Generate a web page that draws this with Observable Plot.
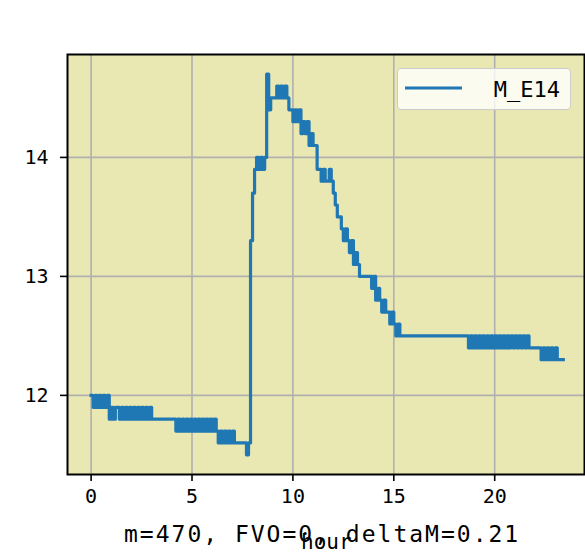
<!DOCTYPE html>
<html>
<head>
<meta charset="utf-8">
<script src="https://cdn.jsdelivr.net/npm/d3@7"></script>
<script src="https://cdn.jsdelivr.net/npm/@observablehq/plot@0.6"></script>
<style>
  html, body { margin: 0; padding: 0; background: #ffffff; }
  #wrap { position: relative; width: 585px; height: 554px; overflow: hidden; }
  .mono { font-family: "DejaVu Sans Mono", monospace; color: #000; white-space: pre; }
  #legend { position: absolute; left: 397px; top: 68px; width: 174px; height: 42px; box-sizing: border-box;
            background: rgba(255,255,255,0.8); border: 1.5px solid #cccccc; border-radius: 4px; }
  #legend svg { position: absolute; left: 0; top: 0; }
  #legendText { position: absolute; right: 10px; top: 8px; font-size: 22px; line-height: 26px; }
  #xlabel { position: absolute; left: 301px; top: 529px; font-size: 21px; line-height: 26px; }
  #caption { position: absolute; left: 124px; top: 521px; font-size: 23px; line-height: 26px; letter-spacing: 2px; }
</style>
</head>
<body>
<div id="wrap"></div>
<script>
const sampleStepHours = 0.1;
const seriesName = "M_E14";
const mE14 = [
  // hour 0
  12.0, 11.9, 12.0, 11.9, 12.0, 11.9, 12.0, 11.9, 12.0, 11.8,
  // hour 1
  11.9, 11.8, 11.9, 11.9, 11.8, 11.9, 11.8, 11.9, 11.8, 11.9,
  // hour 2
  11.8, 11.9, 11.8, 11.9, 11.8, 11.9, 11.8, 11.9, 11.8, 11.9,
  // hour 3
  11.8, 11.8, 11.8, 11.8, 11.8, 11.8, 11.8, 11.8, 11.8, 11.8,
  // hour 4
  11.8, 11.8, 11.7, 11.8, 11.7, 11.8, 11.7, 11.8, 11.7, 11.8,
  // hour 5
  11.7, 11.8, 11.7, 11.8, 11.7, 11.8, 11.7, 11.8, 11.7, 11.8,
  // hour 6
  11.7, 11.8, 11.7, 11.6, 11.7, 11.6, 11.7, 11.6, 11.7, 11.6,
  // hour 7
  11.7, 11.6, 11.6, 11.6, 11.6, 11.6, 11.6, 11.5, 11.6, 13.3,
  // hour 8
  13.7, 13.9, 14.0, 13.9, 14.0, 13.9, 14.0, 14.7, 14.4, 14.5,
  // hour 9
  14.5, 14.5, 14.6, 14.5, 14.6, 14.5, 14.6, 14.5, 14.4, 14.4,
  // hour 10
  14.3, 14.4, 14.3, 14.4, 14.2, 14.3, 14.2, 14.3, 14.1, 14.2,
  // hour 11
  14.1, 14.1, 13.9, 13.9, 13.8, 13.9, 13.8, 13.8, 13.9, 13.8,
  // hour 12
  13.7, 13.6, 13.5, 13.5, 13.4, 13.3, 13.4, 13.3, 13.2, 13.3,
  // hour 13
  13.1, 13.2, 13.1, 13.0, 13.0, 13.0, 13.0, 13.0, 13.0, 12.9,
  // hour 14
  13.0, 12.8, 12.9, 12.8, 12.7, 12.8, 12.7, 12.7, 12.6, 12.7,
  // hour 15
  12.6, 12.5, 12.6, 12.5, 12.5, 12.5, 12.5, 12.5, 12.5, 12.5,
  // hour 16
  12.5, 12.5, 12.5, 12.5, 12.5, 12.5, 12.5, 12.5, 12.5, 12.5,
  // hour 17
  12.5, 12.5, 12.5, 12.5, 12.5, 12.5, 12.5, 12.5, 12.5, 12.5,
  // hour 18
  12.5, 12.5, 12.5, 12.5, 12.5, 12.5, 12.5, 12.4, 12.5, 12.4,
  // hour 19
  12.5, 12.4, 12.5, 12.4, 12.5, 12.4, 12.5, 12.4, 12.5, 12.4,
  // hour 20
  12.5, 12.4, 12.5, 12.4, 12.5, 12.4, 12.5, 12.4, 12.5, 12.4,
  // hour 21
  12.5, 12.4, 12.5, 12.4, 12.5, 12.4, 12.5, 12.4, 12.4, 12.4,
  // hour 22
  12.4, 12.4, 12.4, 12.3, 12.4, 12.3, 12.4, 12.3, 12.4, 12.3,
  // hour 23
  12.4, 12.3, 12.3, 12.3, 12.3
];
const xTicks = [0, 5, 10, 15, 20];
const yTicks = [12, 13, 14];
const xDomain = [-1.17, 24.45];
const yDomain = [11.335, 14.865];
const captionText = "m=470, FVO=0, deltaM=0.21";
const xLabel = "hour";

// ---- chart ----
const rows = mE14.map((v, i) => ({hour: i * sampleStepHours, value: v}));

const chart = Plot.plot({
  width: 585,
  height: 554,
  marginLeft: 67,
  marginRight: 1,
  marginTop: 54,
  marginBottom: 80,
  style: {background: "#ffffff", fontFamily: "'DejaVu Sans Mono', monospace", fontSize: "20px", color: "#000"},
  x: {domain: xDomain},
  y: {domain: yDomain},
  marks: [
    Plot.frame({fill: "#eae8b2", stroke: null}),
    Plot.gridX(xTicks, {stroke: "#b0b0b0", strokeOpacity: 1, strokeWidth: 1.6}),
    Plot.gridY(yTicks, {stroke: "#b0b0b0", strokeOpacity: 1, strokeWidth: 1.6}),
    Plot.line(rows, {x: "hour", y: "value", curve: "step-after", stroke: "#1f77b4", strokeWidth: 3.2, strokeLinejoin: "round", strokeLinecap: "square"}),
    Plot.frame({stroke: "#000", strokeWidth: 2}),
    Plot.axisX(xTicks, {tickSize: 7, tickPadding: 7, strokeWidth: 1.6, label: null, fontSize: 20, tickFormat: d => String(d)}),
    Plot.axisY(yTicks, {tickSize: 7, tickPadding: 12, strokeWidth: 1.6, label: null, fontSize: 20, tickFormat: d => String(d)})
  ]
});

const wrap = document.getElementById("wrap");
wrap.appendChild(chart);

// legend
const legend = document.createElement("div");
legend.id = "legend";
legend.innerHTML = `<svg width="174" height="42"><line x1="7" y1="19" x2="64" y2="19" stroke="#1f77b4" stroke-width="3.2"/></svg>`;
const lt = document.createElement("div");
lt.id = "legendText";
lt.className = "mono";
lt.textContent = seriesName;
legend.appendChild(lt);
wrap.appendChild(legend);

// x-axis label
const xl = document.createElement("div");
xl.id = "xlabel";
xl.className = "mono";
xl.textContent = xLabel;
wrap.appendChild(xl);

// caption
const cap = document.createElement("div");
cap.id = "caption";
cap.className = "mono";
cap.textContent = captionText;
wrap.appendChild(cap);
</script>
</body>
</html>
